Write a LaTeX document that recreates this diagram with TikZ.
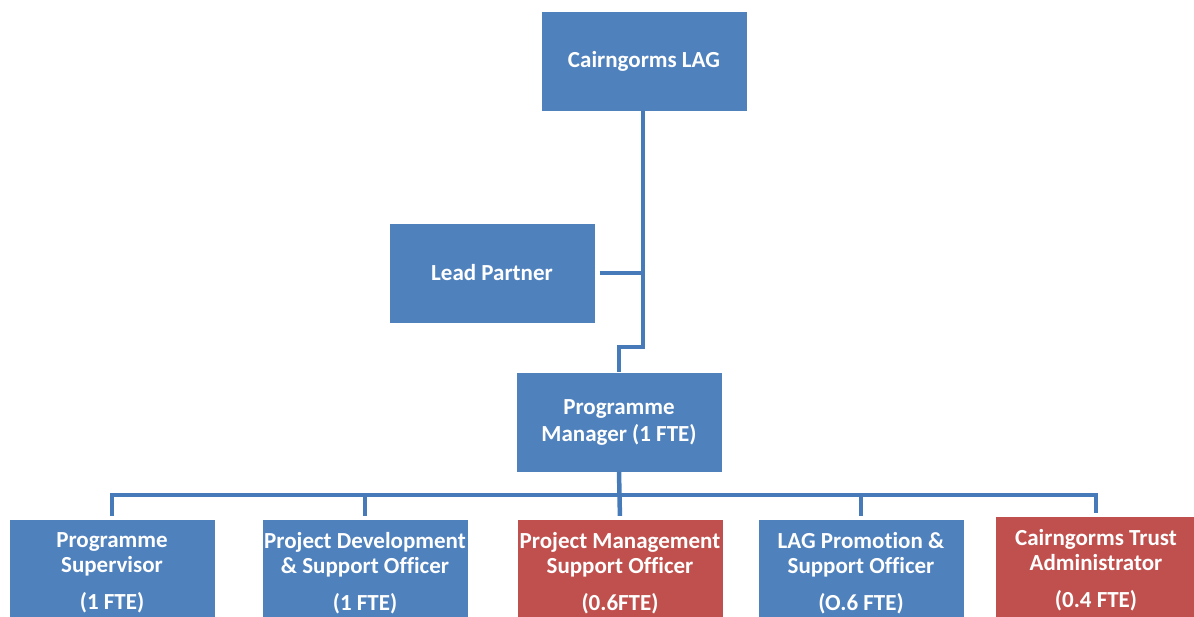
\documentclass[tikz,border=0pt]{standalone}
\usepackage{fontspec}
\setmainfont{Carlito}[Ligatures=NoCommon]
\usepackage{xcolor}
\usetikzlibrary{positioning}
\definecolor{boxblue}{RGB}{79,129,189}
\definecolor{boxred}{RGB}{192,80,77}
\definecolor{lineblue}{RGB}{70,122,184}

\begin{document}
\begin{tikzpicture}[x=1pt,y=-1pt,
        unit/.style={fill=boxblue, draw=none, text=white, minimum width=205pt, minimum height=99pt,
            align=center, font=\fontsize{23}{25}\selectfont\bfseries, inner sep=0pt},
        redunit/.style={unit, fill=boxred},
        staff/.style={unit, minimum height=106pt},
        link/.style={line width=4.5pt, lineblue}]
        \useasboundingbox (0,0) rectangle (1194,616);
        % Top of the chart
        \node[unit] (lag) at (644,61) {Cairngorms LAG};
        \node[unit] (lead) at (492,273) {Lead Partner};
        \node[unit, font=\fontsize{23}{27}\selectfont\bfseries] (pm) at (619,422) {Programme\\Manager (1 FTE)};
        % Staff
        \node[staff] (sup) at (112,573) {Programme\\Supervisor\\[12pt](1 FTE)};
        \node[staff] (dev) at (365,573) {Project Development\\\& Support Officer\\[12pt](1 FTE)};
        \node[staff, fill=boxred] (mgt) at (620,573) {Project Management\\Support Officer\\[12pt](0.6FTE)};
        \node[staff] (promo) at (861,573) {LAG Promotion \&\\Support Officer\\[12pt](O.6 FTE)};
        \node[staff, fill=boxred, minimum width=200pt] (trust) at (1096,570) {Cairngorms Trust\\Administrator\\[12pt](0.4 FTE)};
        % Lines
        \coordinate (jog) at (643,347);
        \coordinate (bus) at (620,495);
        \draw[link] ([xshift=-1pt]lag.south) -- ([xshift=-1pt]lag.south |- jog) -| (pm.north);
        \draw[link, shorten <=5pt] (lead.east) -- (lead.east -| jog);
        \draw[link, shorten >=4pt] (pm.south) -- (mgt.north);
        \draw[link, shorten <=4pt, shorten >=4pt] (sup.north) |- (bus) -| (trust.north);
        \foreach \n in {dev,promo} {
            \draw[link, shorten <=4pt] (\n.north) -- (\n.north |- bus);
        }
\end{tikzpicture}
\end{document}
